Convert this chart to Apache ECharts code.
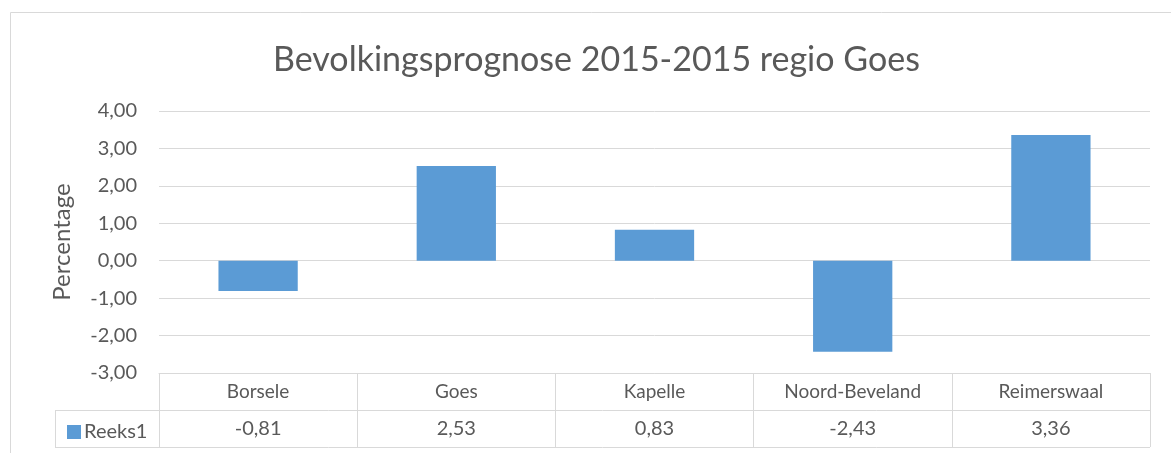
<!DOCTYPE html>
<html>
<head>
<meta charset="utf-8">
<script src="https://cdn.jsdelivr.net/npm/echarts@6/dist/echarts.min.js"></script>
<style>
  html, body { margin: 0; padding: 0; background: #fff; }
  #chart { width: 1171px; height: 453px; }
</style>
</head>
<body>
<div id="chart"></div>
<script>
var gemeenten = ['Borsele', 'Goes', 'Kapelle', 'Noord-Beveland', 'Reimerswaal'];
var reeks1 = [-0.81, 2.53, 0.83, -2.43, 3.36];
var yTicks = { min: -3, max: 4, interval: 1 };

var tekst = '#595959';
var lijn = '#d9d9d9';
var font = 'Lato';

function komma(v, n) {
  return v.toFixed(n).replace('.', ',');
}

var chart = echarts.init(document.getElementById('chart'));

var option = {
  animation: false,
  textStyle: { fontFamily: font },
  title: {
    text: 'Bevolkingsprognose 2015-2015 regio Goes',
    left: 268,
    top: 38,
    textStyle: { fontFamily: font, fontSize: 34, fontWeight: 'normal', color: tekst }
  },
  legend: {
    left: 62,
    top: 417,
    itemWidth: 14,
    itemHeight: 14,
    itemGap: 4,
    icon: 'rect',
    textStyle: { fontFamily: font, fontSize: 20, color: tekst, padding: [0, 0, 0, -2] },
    data: ['Reeks1']
  },
  grid: { left: 159, right: 21, top: 111, bottom: 80 },
  xAxis: [{
    type: 'category',
    data: gemeenten,
    position: 'bottom',
    axisLine: { onZero: false, lineStyle: { color: lijn } },
    axisTick: { show: true, length: 74, lineStyle: { color: lijn } },
    axisLabel: { margin: 9, fontSize: 19, color: tekst, fontFamily: font }
  }, {
    type: 'category',
    data: reeks1.map(function (v) { return komma(v, 2); }),
    position: 'bottom',
    offset: 37,
    axisLine: { show: false },
    axisTick: { show: false },
    axisLabel: { margin: 9, fontSize: 20, color: tekst, fontFamily: font }
  }],
  yAxis: {
    type: 'value',
    min: yTicks.min,
    max: yTicks.max,
    interval: yTicks.interval,
    name: 'Percentage',
    nameLocation: 'middle',
    nameGap: 85,
    nameTextStyle: { fontSize: 24, color: tekst, fontFamily: font },
    axisLine: { show: false },
    axisTick: { show: false },
    splitLine: { lineStyle: { color: lijn } },
    axisLabel: {
      margin: 22, fontSize: 20, color: tekst, fontFamily: font,
      formatter: function (v) { return komma(v, 2); }
    }
  },
  series: [{
    name: 'Reeks1',
    type: 'bar',
    data: reeks1,
    barWidth: '40%',
    itemStyle: { color: '#5b9bd5' }
  }],
  graphic: [
    // kader van de grafiek
    { type: 'rect', shape: { x: 10.5, y: 12.5, width: 1300, height: 600 },
      style: { fill: null, stroke: lijn, lineWidth: 1 }, silent: true },
    // tabelrand
    { type: 'line', shape: { x1: 55, y1: 410.5, x2: 1150, y2: 410.5 }, style: { stroke: lijn, lineWidth: 1 } },
    { type: 'line', shape: { x1: 55, y1: 447.5, x2: 1150, y2: 447.5 }, style: { stroke: lijn, lineWidth: 1 } },
    { type: 'line', shape: { x1: 55.5, y1: 410, x2: 55.5, y2: 447 }, style: { stroke: lijn, lineWidth: 1 } }
  ]
};

chart.setOption(option);
</script>
</body>
</html>
